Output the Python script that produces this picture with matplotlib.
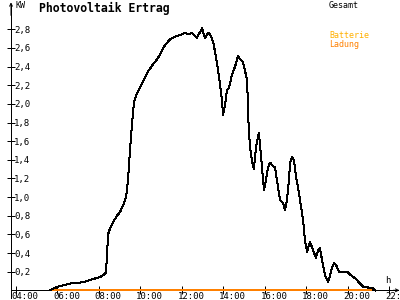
import matplotlib.pyplot as plt
from matplotlib.transforms import ScaledTranslation

# data (time in hours, power in kW)
hours = [5.66, 6.05, 6.24, 6.48, 6.72, 7.25, 7.59, 7.88, 8.07, 8.27, 8.36,
         8.41, 8.46, 8.55, 8.70, 8.89, 9.04, 9.18, 9.33, 9.42, 9.52, 9.61,
         9.71, 9.81, 10.00, 10.14, 10.39, 10.58, 10.72, 10.86, 10.96, 11.20,
         11.44, 11.68, 11.93, 12.17, 12.31, 12.51, 12.75, 12.84, 12.99, 13.13,
         13.28, 13.37, 13.52, 13.66, 13.81, 13.95, 14.00, 14.10, 14.19, 14.29,
         14.43, 14.58, 14.72, 14.82, 14.96, 15.16, 15.23, 15.30, 15.40, 15.49,
         15.59, 15.73, 15.83, 15.93, 15.98, 16.07, 16.17, 16.27, 16.41, 16.51,
         16.60, 16.75, 16.89, 16.99, 17.08, 17.18, 17.23, 17.32, 17.42, 17.52,
         17.61, 17.71, 17.86, 17.95, 18.05, 18.19, 18.34, 18.48, 18.58, 18.67,
         18.82, 18.92, 19.06, 19.16, 19.26, 19.35, 19.45, 19.59, 19.98, 20.12,
         20.36, 20.60, 20.75, 20.99, 21.23, 21.33]
total_kw = [0.0, 0.04, 0.05, 0.065, 0.075, 0.086, 0.11, 0.13, 0.14, 0.17, 0.19,
            0.38, 0.60, 0.66, 0.73, 0.80, 0.84, 0.91, 1.00, 1.18, 1.51, 1.77,
            2.02, 2.09, 2.18, 2.24, 2.35, 2.41, 2.45, 2.49, 2.53, 2.63,
            2.69, 2.72, 2.74, 2.76, 2.75, 2.76, 2.71, 2.75, 2.81, 2.71,
            2.76, 2.75, 2.67, 2.51, 2.29, 2.04, 1.88, 1.99, 2.15, 2.17,
            2.31, 2.40, 2.51, 2.48, 2.45, 2.26, 1.79, 1.54, 1.38, 1.30,
            1.54, 1.69, 1.45, 1.18, 1.08, 1.18, 1.32, 1.37, 1.33, 1.32,
            1.18, 0.97, 0.94, 0.86, 0.97, 1.18, 1.37, 1.43, 1.40, 1.22,
            1.11, 0.97, 0.75, 0.54, 0.41, 0.52, 0.43, 0.35, 0.43, 0.45,
            0.27, 0.16, 0.09, 0.16, 0.25, 0.29, 0.27, 0.20, 0.20, 0.17,
            0.13, 0.075, 0.04, 0.03, 0.02, 0.0]
charge_hours = [5.62, 21.18]
charge_kw = [0.0, 0.0]

x_ticks = [4, 6, 8, 10, 12, 14, 16, 18, 20, 22]
x_labels = ["04:00", "06:00", "08:00", "10:00", "12:00",
            "14:00", "16:00", "18:00", "20:00", "22:00"]
y_ticks = [0.2, 0.4, 0.6, 0.8, 1.0, 1.2, 1.4, 1.6, 1.8, 2.0, 2.2, 2.4, 2.6, 2.8]
y_labels = [f"{v:.1f}".replace(".", ",") for v in y_ticks]

MONO = "DejaVu Sans Mono"
ORANGE = "#ff8000"
YELLOW = "#ffb000"

plt.rcParams['font.family'] = MONO

fig = plt.figure(figsize=(4, 3), dpi=100)
ax = fig.add_axes([0, 0, 1, 1])
ax.patch.set_alpha(0)
ax.set_xlim(3.253, 22.53)
ax.set_ylim(-0.104, 3.115)

AX_X = 3.783  # where the y axis sits (in hours)

ax.plot(charge_hours, charge_kw, color=ORANGE, lw=1.1, antialiased=False,
        zorder=4, solid_capstyle='butt')
ax.plot(hours, total_kw, color="black", lw=0.72, antialiased=False, zorder=5)

#axes in the middle of the figure
for side in ["top", "right"]:
    ax.spines[side].set_visible(False)
ax.spines["left"].set_position(("data", AX_X))
ax.spines["left"].set_bounds(-0.08, 3.06)
ax.spines["bottom"].set_position(("data", 0))
ax.spines["bottom"].set_bounds(AX_X, 22.45)
for s in ax.spines.values():
    s.set_linewidth(0.72)
    s.set_antialiased(False)

#arrow heads
ax.annotate("", xy=(22.5, 0), xytext=(22.2, 0),
            arrowprops=dict(arrowstyle="->", lw=0.72, color="black",
                            shrinkA=0, shrinkB=0, mutation_scale=5))
ax.annotate("", xy=(AX_X, 3.09), xytext=(AX_X, 2.95),
            arrowprops=dict(arrowstyle="->", lw=0.72, color="black",
                            shrinkA=0, shrinkB=0, mutation_scale=5))

ax.set_yticks(y_ticks, y_labels)
ax.tick_params(axis="y", direction="inout", length=6, width=0.72,
               pad=-5.4, labelsize=6.5)
for lbl in ax.get_yticklabels():
    lbl.set_ha("left")

ax.set_xticks(x_ticks, x_labels)
ax.tick_params(axis="x", direction="inout", length=6, width=0.72,
               pad=-1.8, labelsize=6.5)
shift = ScaledTranslation(-4 / 100, 0, fig.dpi_scale_trans)
for lbl in ax.get_xticklabels():
    lbl.set_ha("left")
    lbl.set_transform(lbl.get_transform() + shift)

#texts
fig.text(15 / 400, 1 - 5.5 / 300, "KW", fontsize=6, va="center", ha="left")
fig.text(39 / 400, 1 - 8 / 300, "Photovoltaik Ertrag", fontsize=8.3,
         fontweight="bold", va="center", ha="left")
fig.text(329 / 400, 1 - 5 / 300, "Gesamt", fontsize=6, va="center", ha="left")
fig.text(329 / 400, 1 - 36 / 300, "Batterie", fontsize=6, va="center",
         ha="left", color=YELLOW)
fig.text(329 / 400, 1 - 44 / 300, "Ladung", fontsize=6, va="center",
         ha="left", color=ORANGE)
fig.text(385 / 400, 1 - 280.5 / 300, "h", fontsize=6.5, va="center", ha="left")

fig.savefig("out.png", dpi=100)
